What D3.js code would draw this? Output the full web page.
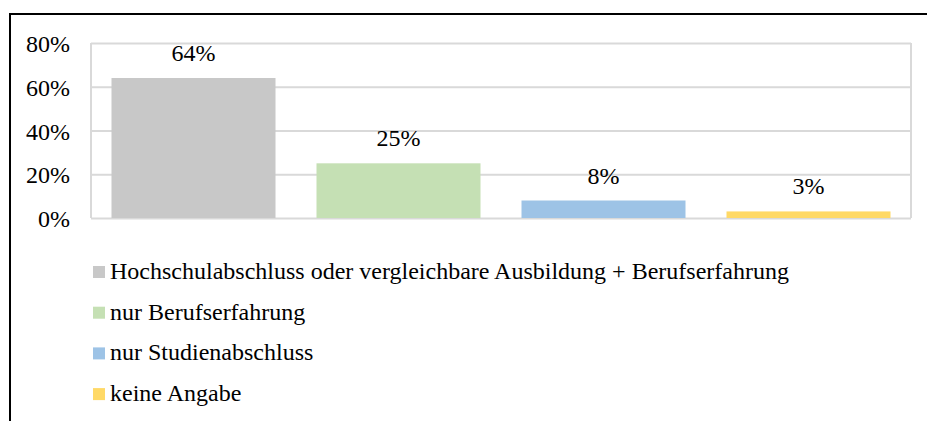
<!DOCTYPE html>
<html>
<head>
<meta charset="utf-8">
<script src="https://cdn.jsdelivr.net/npm/d3@7"></script>
<style>
  html, body { margin: 0; padding: 0; background: #fff; }
  svg { display: block; }
</style>
</head>
<body>
<svg id="chart" width="927" height="421"></svg>
<script>
const categories = [
  "Hochschulabschluss oder vergleichbare Ausbildung + Berufserfahrung",
  "nur Berufserfahrung",
  "nur Studienabschluss",
  "keine Angabe"
];
const values = [0.64, 0.25, 0.08, 0.03];
const colors = ["#c8c8c8", "#c5e0b4", "#9dc3e6", "#ffd966"];
const tickValues = [0, 0.2, 0.4, 0.6, 0.8];

const FONT = "'Liberation Serif', 'Times New Roman', serif";
const FS = "24px";
const svg = d3.select("#chart");
const W = 927, H = 421;
const plot = { left: 91, right: 911, top: 43, bottom: 218 };

// outer frame (top and left edge)
svg.append("line").attr("x1", 10).attr("x2", W).attr("y1", 14).attr("y2", 14)
  .attr("stroke", "#000").attr("stroke-width", 2);
svg.append("line").attr("x1", 10).attr("x2", 10).attr("y1", 13).attr("y2", H)
  .attr("stroke", "#000").attr("stroke-width", 2);

const x = d3.scaleBand().domain(categories).range([plot.left, plot.right])
  .paddingInner(0.2).paddingOuter(0.1);
const y = d3.scaleLinear().domain([0, 0.8]).range([plot.bottom, plot.top]);

// gridlines + tick labels
const yAxis = d3.axisLeft(y).tickValues(tickValues)
  .tickFormat(d3.format(".0%")).tickSize(-(plot.right - plot.left)).tickPadding(21);
const gAxis = svg.append("g").attr("transform", `translate(${plot.left},0)`).call(yAxis);
gAxis.attr("font-family", null).attr("font-size", null);
gAxis.select(".domain").remove();
gAxis.selectAll(".tick line").attr("stroke", "#d9d9d9").attr("stroke-width", 2);
gAxis.selectAll(".tick text").style("font-family", FONT).style("font-size", FS)
  .attr("dy", "0.36em").attr("fill", "#000");

// plot-area side borders
[plot.left, plot.right].forEach(xx => {
  svg.append("line").attr("x1", xx).attr("x2", xx).attr("y1", plot.top).attr("y2", plot.bottom)
    .attr("stroke", "#d9d9d9").attr("stroke-width", 2);
});

// bars
svg.append("g").selectAll("rect").data(categories).join("rect")
  .attr("x", d => x(d))
  .attr("width", x.bandwidth())
  .attr("y", (d, i) => y(values[i]))
  .attr("height", (d, i) => y(0) - y(values[i]))
  .attr("fill", (d, i) => colors[i]);

// value labels
svg.append("g").selectAll("text").data(categories).join("text")
  .attr("x", d => x(d) + x.bandwidth() / 2)
  .attr("y", (d, i) => y(values[i]) - 17)
  .attr("text-anchor", "middle")
  .style("font-family", FONT).style("font-size", FS)
  .text((d, i) => d3.format(".0%")(values[i]));

// legend
const legend = svg.append("g").attr("transform", "translate(93,266)");
const rowH = 40.7;
const items = legend.selectAll("g").data(categories).join("g")
  .attr("transform", (d, i) => `translate(0,${i * rowH})`);
items.append("rect").attr("width", 12).attr("height", 12).attr("fill", (d, i) => colors[i]);
items.append("text").attr("x", 17).attr("y", 13)
  .style("font-family", FONT).style("font-size", FS).text(d => d);
</script>
</body>
</html>
